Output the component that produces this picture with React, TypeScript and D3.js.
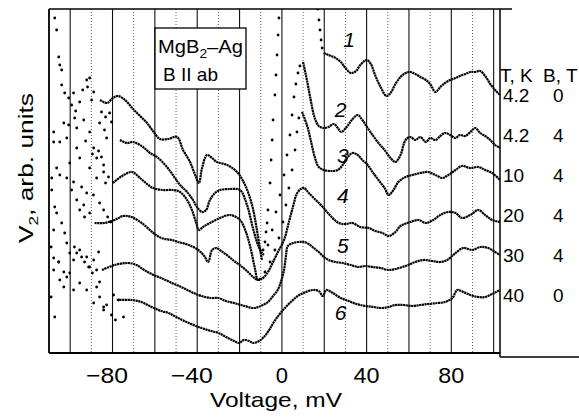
import React from "react";
import * as d3 from "d3";

type P = [number, number];

// x in mV, y in arbitrary units (offset spectra)
const curve1Line: P[] = [[-85.9,253],[-82.6,250],[-79.8,255],[-77.4,257],[-74.1,253],[-70.3,244],[-67,237],[-63.7,230],[-60.9,222],[-57.6,214],[-53.8,214],[-49.5,216],[-46.7,203],[-43.4,191],[-40.6,176],[-39.2,170],[-37.7,185],[-35.4,198],[-33,195],[-30.7,191],[-25.9,188],[-21.2,181],[-17.4,168],[-14.1,148],[-11.8,123],[-10.3,103],[-9.4,93]];
const curve1Dots: P[] = [[-8.9,103],[-8,111],[-7.5,121],[-7,130],[-6.6,143],[-5.6,170],[-5.1,193],[-4.6,213],[-4.2,233],[-3.3,258],[-2.8,278],[-2.3,298],[-1.8,318],[-1.4,335],[17,344],[17.5,333],[18,323],[18.5,313],[19,305]];
const curve1Right: P[] = [[19.8,300],[22,298],[24.5,296],[27.8,291],[30,285],[32.5,280],[35,282],[37,288],[40,293],[42,289],[44,278],[46.6,266],[49.4,257],[51.3,260],[53.6,269],[56,276],[58.4,280],[60.7,281],[63,279],[65.4,276],[68,273],[70,269],[72.5,261],[74.8,266],[77,270],[79.5,273],[82,275],[84,277],[86.6,279],[89,281],[91.3,281],[93.6,282],[96,277],[98.4,269],[100.7,263],[103,258]];

const curve2Line: P[] = [[-76.5,213],[-73.2,210],[-70.3,211],[-65.6,206],[-62.3,200],[-59,196],[-54.3,186],[-50.5,175],[-48.1,168],[-44.8,161],[-42,153],[-40.1,146],[-37.7,141],[-35.8,143],[-34,153],[-31.6,160],[-29.2,163],[-24.5,164],[-19.8,163],[-16.5,148],[-13.7,125],[-11.3,108],[-9.4,100],[-8.5,98]];
const curve2Dots: P[] = [[-6.6,108],[-4.6,123],[-2.8,141],[-0.9,158],[1,178],[2.4,198],[3.8,218],[4.8,238],[5.7,256],[6.6,269],[7.6,280],[8.5,287]];
const curve2Right: P[] = [[10,291],[11.8,273],[13.6,253],[15.5,235],[17.4,227],[19.8,225],[22,226],[24.5,229],[26.4,225],[28,221],[30.6,226],[33,233],[35.8,238],[38,233],[40.5,225],[42.8,218],[45.6,210],[48.5,203],[51.3,195],[53.6,191],[56,198],[58.4,213],[60.7,216],[63,213],[65.4,216],[68,211],[70,215],[72.5,213],[74.8,217],[77,220],[79.5,218],[82,215],[84,218],[86.6,217],[89,221],[91.3,225],[93.6,220],[96,217],[98.4,213],[100.7,208],[103,205]];

const curve3Line: P[] = [[-79.8,170],[-75.5,177],[-70.8,181],[-67,175],[-63.7,169],[-60.9,165],[-56.2,163],[-51.4,163],[-48.1,161],[-44.8,153],[-42.5,143],[-40.6,131],[-39.2,123],[-37.3,126],[-34,130],[-29.2,135],[-24.5,138],[-19.8,133],[-17,121],[-14.6,103],[-12.8,85],[-11.3,73],[-9.9,75]];
const curve3Dots: P[] = [[-8,81],[-5.6,91],[-3.3,103],[-1.4,115],[0.5,131],[1.9,148],[3.3,165],[4.8,183],[6.2,203],[7.1,221],[8,235]];
const curve3Right: P[] = [[9.5,241],[11.8,228],[13.6,213],[15.5,196],[17.4,186],[19.8,183],[23,182],[26.4,183],[28.7,188],[31,196],[33.4,200],[35.8,198],[38,193],[40.5,188],[42.8,181],[45.6,173],[48.5,165],[50.4,158],[52.7,163],[55,171],[58.4,176],[61.6,178],[65.4,180],[69,181],[72.5,178],[75.8,175],[78.6,178],[82,183],[85,187],[89,185],[92.7,186],[96,183],[99.3,180],[103,173]];

const curve4Line: P[] = [[-88.5,130],[-83.8,130],[-79,133],[-75,137],[-71,136],[-65,128],[-60.7,120],[-57,115],[-52,113],[-49,111],[-44,108],[-39.5,103],[-36.7,97],[-34.8,91],[-33,103],[-31,105],[-28.7,102],[-25.4,97],[-22.6,92],[-19.3,87],[-16,81],[-13.6,76],[-11.3,73],[-9,75],[-6.6,81],[-4.2,91],[-1.9,101],[1,113],[3.3,131],[5.2,146],[7,159],[8.9,164],[10.4,165],[12.7,160],[16,153],[19.3,146],[23,137],[26.8,130],[30,129],[33.4,130],[37,126],[41,125],[44.2,122],[47.5,120],[50.4,117],[53.6,121],[56,127],[60.7,131],[64.5,133],[68,130],[71.5,133],[74.8,138],[78.6,141],[82,140],[85,135],[89,138],[92.7,143],[96,138],[99.3,133],[103,131]];

const curve5Line: P[] = [[-85,83],[-79,88],[-72.5,90],[-68.7,88],[-65,83],[-60.7,78],[-57,75],[-52,70],[-47.5,66],[-42.8,61],[-38,57],[-33.4,55],[-30,55],[-26.4,52],[-22.6,50],[-19.3,48],[-16,46],[-13.2,45],[-10,47],[-6.6,51],[-4.2,57],[-2,63],[-0.5,71],[1,83],[1.9,97],[2.8,107],[5.2,110],[8,111],[10.4,111],[12.7,109],[15,105],[17.4,101],[19.8,96],[22,93],[25.4,91],[28.7,90],[32.5,88],[36,86],[39.5,87],[42.8,86],[46.6,85],[50.4,83],[53.6,84],[58.4,87],[63,91],[66.8,93],[71,92],[74.8,91],[78,93],[82,100],[85.6,105],[90,103],[93.6,106],[97.4,105],[100.7,101],[103,98]];

const curve6Line: P[] = [[-78,53],[-71,53],[-66.4,51],[-61.6,46],[-57,42],[-53.6,40],[-49,35],[-44,30],[-38,25],[-33.4,22],[-30,20],[-26.4,16],[-22.6,12],[-20.2,10],[-18,13],[-15.5,12],[-13.6,10],[-10.8,12],[-8.5,16],[-6,23],[-3.8,31],[-1.4,38],[1,44],[4.2,51],[7.5,57],[11.3,61],[14.6,63],[17.4,62],[19.3,57],[21,63],[24,60],[27.8,55],[31.5,52],[35.3,49],[39.5,47],[43.3,46],[46.6,45],[50.4,46],[53.6,48],[57.4,48],[61.6,47],[65.4,48],[69,49],[73.4,50],[77,51],[80.5,55],[82.8,63],[85.6,61],[89,58],[92.7,56],[96,56],[99.3,59],[103,63]];

const noiseDots: P[] = [[-107.3,335],[-106.4,323],[-105.4,296],[-104.9,288],[-104,283],[-104,268],[-102.6,260],[-100.7,255],[-98.4,260],[-95.5,251],[-92.2,273],[-90.8,275],[-88.9,261],[-103,230],[-107.8,221],[-107.8,211],[-104.9,211],[-101.6,215],[-96.9,225],[-93.6,233],[-90.8,221],[-86.1,230],[-83.8,223],[-82.8,215],[-80.5,231],[-96.9,205],[-95.5,195],[-88.9,205],[-87.5,195],[-84.2,188],[-90.8,185],[-106.4,185],[-104.9,178],[-108.7,175],[-101.6,175],[-87.5,175],[-84.2,181],[-108.7,163],[-107.3,146],[-106.4,140],[-107.8,123],[-104,130],[-102.6,120],[-99.3,163],[-96.9,153],[-95.5,143],[-93.6,148],[-93.2,136],[-90.8,140],[-101.6,110],[-100.2,100],[-105.4,91],[-107.8,83],[-98.4,93],[-95.5,103],[-92.2,96],[-88.9,93],[-86.6,101],[-90.8,86],[-87.5,83],[-109,56],[-104.9,73],[-103,66],[-101.6,76],[-98.4,63],[-95.5,70],[-92.2,63],[-87.5,66],[-86.1,56],[-88.9,50],[-82.8,48],[-84.2,43],[-74.8,36],[-107.3,36],[-79.5,58],[-77.2,53],
  [-109,106],[-107.8,95],[-105.4,91],[-103,81],[-100.2,80],[-98,106],[-96.9,100],[-94.6,96],[-93.2,91],[-91.3,86],[-89.5,80],[-86.1,71],[-84.2,46],[-80.5,38],[-78.6,33],[-97.4,242],[-99.3,248],[-94.1,263],[-91.8,266],[-89.9,253],[-85.2,241],[-83.3,236],[-81.4,240],[-100.7,228],[-97.9,235],[-92.7,212],[-89.5,199],[-86.6,202],[-85.2,196],[-83.3,170],[-81.9,176],[-100.2,190],[-98.4,171],[-94.6,166],[-92.2,160],[-89,158],[-86.1,150],[-84.2,143],[-82.3,136],[-80.9,131]];

const xTicks = [-80, -40, 0, 40, 80];
const gridLines = [-100, -90, -80, -70, -60, -50, -40, -30, -20, -10, 0, 10, 20, 30, 40, 50, 60, 70, 80, 90, 100];
const curveNumbers = ["1", "2", "3", "4", "5", "6"];
const curveNumberPos: P[] = [[29, 306], [25, 236], [26, 190], [26, 150], [26, 100], [25, 33]];
const legendT = ["4.2", "4.2", "10", "20", "30", "40"];
const legendB = ["0", "4", "4", "4", "4", "0"];

const W = 579, H = 420;
const L = 49, R = 500, T = 9, B = 353;
const x = d3.scaleLinear().domain([-110, 103]).range([L, R]);
const y = d3.scaleLinear().domain([0, 344]).range([B, T]);
const line = d3.line<P>().x(d => x(d[0])).y(d => y(d[1])).curve(d3.curveCatmullRom.alpha(0.5));
const FONT = "Liberation Sans, Arial, Helvetica, sans-serif";
const INK = "#000";

export default function App() {
  const lines = [curve1Line, curve1Right, curve2Line, curve2Right, curve3Line, curve3Right, curve4Line, curve5Line, curve6Line];
  const dots = [...curve1Dots, ...curve2Dots, ...curve3Dots, ...noiseDots];
  return (
    <svg width={W} height={H} style={{ position: "absolute", left: 0, top: 0, background: "#fff" }} fontFamily={FONT}>
      <defs>
        <clipPath id="plot"><rect x={L} y={T} width={R - L} height={B - T} /></clipPath>
      </defs>
      {gridLines.map(g => (
        <line key={g} x1={x(g)} x2={x(g)} y1={T} y2={B} stroke={g % 20 === 0 ? "#111" : "#555"}
          strokeWidth={g % 20 === 0 ? 1.1 : 0.9} strokeDasharray={g % 20 === 0 ? undefined : "1 2"} />
      ))}
      <g clipPath="url(#plot)">
        {lines.map((c, i) => (
          <path key={i} d={line(c) || ""} fill="none" stroke={INK} strokeWidth={2.2} strokeDasharray="2.2 0.5" />
        ))}
        {dots.map((d, i) => (
          <circle key={i} cx={x(d[0])} cy={y(d[1])} r={1.4} fill={INK} />
        ))}
      </g>
      {/* frame */}
      <line x1={L} x2={L} y1={T} y2={B} stroke={INK} strokeWidth={1.8} />
      <line x1={L} x2={R} y1={B} y2={B} stroke={INK} strokeWidth={1.8} />
      <line x1={L} x2={512} y1={T} y2={T} stroke={INK} strokeWidth={1.5} />
      <line x1={R} x2={R} y1={T} y2={357} stroke={INK} strokeWidth={1.5} />
      <line x1={R} x2={W} y1={357} y2={357} stroke={INK} strokeWidth={1.5} />
      {xTicks.map(t => (
        <text key={t} x={x(t) - (t < 0 ? 5.5 : 0)} y={383} fontSize={22} textAnchor="middle" fill={INK}
          textLength={t < 0 ? 42 : t === 0 ? undefined : 26} lengthAdjust="spacingAndGlyphs">
          {t < 0 ? "\u2212" + Math.abs(t) : String(t)}
        </text>
      ))}
      <text x={276} y={407} fontSize={21} textAnchor="middle" fill={INK} textLength={132} lengthAdjust="spacingAndGlyphs">Voltage, mV</text>
      <text transform="translate(33,168) rotate(-90)" fontSize={20} textAnchor="middle" fill={INK} textLength={150} lengthAdjust="spacingAndGlyphs">
        V<tspan fontSize={13} dy={5}>2</tspan><tspan dy={-5}>, arb. units</tspan>
      </text>
      {/* inset label */}
      <rect x={155} y={28} width={91} height={61} fill="#fff" stroke={INK} strokeWidth={1.3} />
      <text x={158} y={53} fontSize={19} fill={INK} textLength={85} lengthAdjust="spacingAndGlyphs">MgB<tspan fontSize={13} dy={5}>2</tspan><tspan dy={-5}>–Ag</tspan></text>
      <text x={163} y={81} fontSize={19} fill={INK} textLength={55} lengthAdjust="spacingAndGlyphs">B II ab</text>
      {/* curve numbers */}
      {curveNumbers.map((n, i) => (
        <text key={n} x={x(curveNumberPos[i][0])} y={y(curveNumberPos[i][1])} fontSize={21} fontStyle="italic" fill={INK}>{n}</text>
      ))}
      {/* legend */}
      <text x={500} y={82} fontSize={19} fill={INK}>T, K</text>
      <text x={543} y={82} fontSize={19} fill={INK}>B, T</text>
      {legendT.map((t, i) => (
        <g key={i}>
          <text x={503} y={102 + i * 40} fontSize={19} fill={INK}>{t}</text>
          <text x={553} y={102 + i * 40} fontSize={19} fill={INK}>{legendB[i]}</text>
        </g>
      ))}
    </svg>
  );
}
